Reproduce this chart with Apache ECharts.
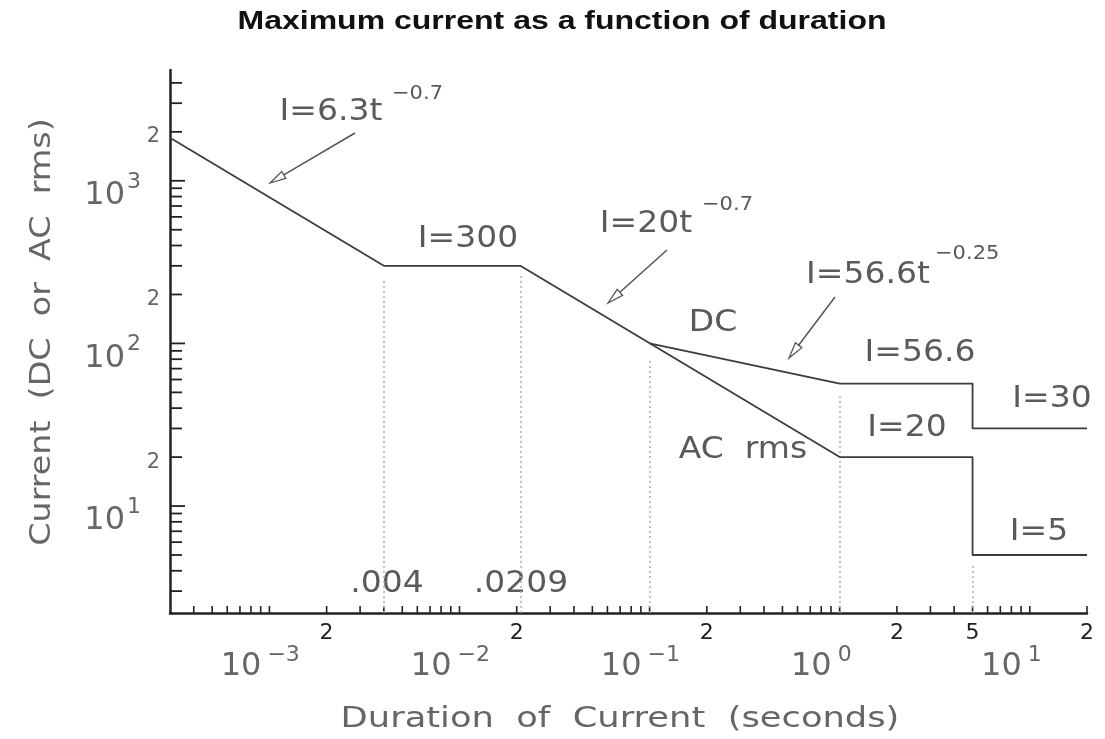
<!DOCTYPE html>
<html>
<head>
<meta charset="utf-8">
<script src="https://cdn.jsdelivr.net/npm/echarts@6/dist/echarts.min.js"></script>
<style>
html,body{margin:0;padding:0;background:#ffffff;}
#chart{width:1105px;height:739px;}
</style>
</head>
<body>
<div id="chart"></div>
<script>
// ---------------- data ----------------
// AC rms limit curve (duration in s, current in A)
const acDuration = [0.0003, 0.004, 0.0209, 1, 5, 5, 20];
const acCurrent  = [1840, 300, 300, 20, 20, 5, 5];
// DC branch (splits from the AC curve near 0.1 s)
const dcDuration = [0.1, 1, 5, 5, 20];
const dcCurrent  = [100, 56.6, 56.6, 30, 30];
// dotted reference lines: duration and the current where each stops
const markerDuration   = [0.004, 0.0209, 0.1, 1, 5];
const markerTopCurrent = [250, 260, 80, 48, 4.4];
// axis tick labels
const xTickLabelValues = [0.002, 0.02, 0.2, 2, 5, 20];
const xTickLabelTexts  = ['2', '2', '2', '2', '5', '2'];
const xDecadeValues    = [0.001, 0.01, 0.1, 1, 10];
const xDecadeExponents = ['\u22123', '\u22122', '\u22121', '0', '1'];
const yTickLabelValues = [20, 200, 2000];
const yTickLabelTexts  = ['2', '2', '2'];
const yDecadeValues    = [10, 100, 1000];
const yDecadeExponents = ['1', '2', '3'];
const tickMantissas    = [1, 2, 3, 4, 5, 6, 7, 8, 9];
const xTickDecades     = [0.0001, 0.001, 0.01, 0.1, 1, 10];
const yTickDecades     = [1, 10, 100, 1000];

// ---------------- axis ranges ----------------
const X_MIN = 0.0003, X_MAX = 20;
const Y_MIN = 2.2, Y_MAX = 4800;

function inRange(v, lo, hi) { return v > lo * 1.01 && v <= hi * 1.0001; }
const xTickValues = [];
xTickDecades.forEach(d => tickMantissas.forEach(m => { const v = +(m * d).toPrecision(6); if (inRange(v, X_MIN, X_MAX)) xTickValues.push(v); }));
const yTickValues = [];
yTickDecades.forEach(d => tickMantissas.forEach(m => { const v = +(m * d).toPrecision(6); if (inRange(v, Y_MIN, Y_MAX)) yTickValues.push(v); }));
function isDecade(v) { const l = Math.log10(v); return Math.abs(l - Math.round(l)) < 1e-6; }

const FONT = 'DejaVu Sans';
const GRAY = '#5a5a5a';

function txt(text, x, y, size, opts) {
  opts = opts || {};
  return {
    type: 'text', x: x, y: y, scaleX: opts.scaleX || 1, rotation: opts.rotation || 0, silent: true,
    style: {
      text: text, fontSize: size, fontFamily: opts.family || FONT, fontWeight: opts.weight || 'normal',
      fill: opts.fill || GRAY, align: opts.align || 'center', verticalAlign: 'middle',
      textAlign: opts.align || 'center', textVerticalAlign: 'middle'
    }
  };
}

// annotation layout (pixel positions of texts)
const annotations = [
  ['I=6.3t', 331, 112, 30], ['\u22120.7', 392, 94, 20, 'left'],
  ['I=300', 468, 239, 30],
  ['I=20t', 646, 224, 30], ['\u22120.7', 702, 205, 20, 'left'],
  ['I=56.6t', 868, 275, 30], ['\u22120.25', 935, 254, 20, 'left'],
  ['DC', 713, 323, 30],
  ['I=56.6', 920, 353, 30],
  ['I=30', 1052, 399, 30],
  ['I=20', 907, 428, 30],
  ['AC  rms', 743, 450, 30],
  ['I=5', 1039, 532, 30],
  ['.004', 387, 584, 30],
  ['.0209', 521, 584, 30]
];
const arrows = [
  [355, 133, 270, 183],
  [667, 250, 608, 303],
  [835, 297, 789, 358]
];

function arrowElems(sx, sy, tx, ty) {
  const dx = tx - sx, dy = ty - sy, L = Math.hypot(dx, dy);
  const ux = dx / L, uy = dy / L, nx = -uy, ny = ux;
  const hl = 16, hw = 4;
  const bx = tx - ux * hl, by = ty - uy * hl;
  return [
    { type: 'line', silent: true, shape: { x1: sx, y1: sy, x2: bx, y2: by }, style: { stroke: '#555', lineWidth: 1.5 } },
    { type: 'polygon', silent: true, shape: { points: [[tx, ty], [bx + nx * hw, by + ny * hw], [bx - nx * hw, by - ny * hw]] },
      style: { stroke: '#555', fill: '#fff', lineWidth: 1.3 } }
  ];
}

const graphics = [];
graphics.push(txt('Maximum current as a function of duration', 562, 22, 25,
  { family: 'Liberation Sans', weight: 'bold', fill: '#111', scaleX: 1.28 }));
graphics.push(txt('Duration  of  Current  (seconds)', 620, 720, 28, { scaleX: 1.26, fill: '#666' }));
graphics.push(txt('Current  (DC  or  AC  rms)', 43, 332, 28, { scaleX: 1.19, rotation: Math.PI / 2, fill: '#666' }));
annotations.forEach(a => graphics.push(txt(a[0], a[1], a[2], a[3], { align: a[4] || 'center', scaleX: a[3] > 25 ? 1.1 : 1.05 })));
arrows.forEach(a => arrowElems(a[0], a[1], a[2], a[3]).forEach(e => graphics.push(e)));

const pairs = (xs, ys) => xs.map((x, i) => [x, ys[i]]);

const chart = echarts.init(document.getElementById('chart'));
chart.setOption({
  animation: false,
  backgroundColor: '#ffffff',
  grid: { left: 170, top: 70, width: 917, height: 543, outerBoundsMode: 'none', containLabel: false },
  xAxis: {
    type: 'log', logBase: 10, min: X_MIN, max: X_MAX,
    axisLine: { show: true, lineStyle: { color: '#222', width: 2.5 } },
    axisTick: { show: false }, axisLabel: { show: false }, splitLine: { show: false }, minorTick: { show: false }
  },
  yAxis: {
    type: 'log', logBase: 10, min: Y_MIN, max: Y_MAX,
    axisLine: { show: true, lineStyle: { color: '#222', width: 2.5 } },
    axisTick: { show: false }, axisLabel: { show: false }, splitLine: { show: false }, minorTick: { show: false }
  },
  graphic: graphics,
  series: [
    {
      name: 'AC rms', type: 'line', data: pairs(acDuration, acCurrent), symbol: 'none',
      lineStyle: { color: '#3c3c3c', width: 1.8 }, z: 5,
      markLine: {
        silent: true, symbol: ['none', 'none'], label: { show: false },
        lineStyle: { type: [2, 3], color: '#b0b0b0', width: 1.5 },
        data: markerDuration.map((t, i) => [{ coord: [t, Y_MIN * 1.001] }, { coord: [t, markerTopCurrent[i]] }])
      }
    },
    {
      name: 'DC', type: 'line', data: pairs(dcDuration, dcCurrent), symbol: 'none',
      lineStyle: { color: '#3c3c3c', width: 1.8 }, z: 5
    },
    { // x-axis ticks (inside)
      type: 'custom', silent: true, data: xTickValues.map(v => [v, Y_MIN]),
      renderItem: (params, api) => {
        const cs = params.coordSys, yb = cs.y + cs.height;
        const x = api.coord([api.value(0), Y_MIN])[0];
        return { type: 'line', shape: { x1: x, y1: yb, x2: x, y2: yb - 7 }, style: { stroke: '#222', lineWidth: 1.6 } };
      }
    },
    { // y-axis ticks (inside)
      type: 'custom', silent: true, data: yTickValues.map(v => [X_MIN, v]),
      renderItem: (params, api) => {
        const cs = params.coordSys, v = api.value(1);
        const y = api.coord([X_MIN, v])[1];
        const len = isDecade(v) ? 15 : 12;
        return { type: 'line', shape: { x1: cs.x, y1: y, x2: cs.x + len, y2: y }, style: { stroke: '#222', lineWidth: 1.8 } };
      }
    },
    { // x "2"/"5" labels
      type: 'custom', silent: true, data: xTickLabelValues.map(v => [v, Y_MIN]),
      renderItem: (params, api) => {
        const cs = params.coordSys, yb = cs.y + cs.height;
        const x = api.coord([api.value(0), Y_MIN])[0];
        return txt(xTickLabelTexts[params.dataIndex], x, yb + 20, 22, { fill: '#222' });
      }
    },
    { // x decade labels 10^k
      type: 'custom', silent: true, data: xDecadeValues.map(v => [v, Y_MIN]),
      renderItem: (params, api) => {
        const cs = params.coordSys, yb = cs.y + cs.height;
        const x = api.coord([api.value(0), Y_MIN])[0];
        return { type: 'group', children: [
          txt('10', x - 8, yb + 54, 32, { align: 'right', fill: '#666' }),
          txt(xDecadeExponents[params.dataIndex], x - 2, yb + 42, 22, { align: 'left', fill: '#666' })
        ] };
      }
    },
    { // y "2" labels
      type: 'custom', silent: true, data: yTickLabelValues.map(v => [X_MIN, v]),
      renderItem: (params, api) => {
        const cs = params.coordSys;
        const y = api.coord([X_MIN, api.value(1)])[1];
        return txt(yTickLabelTexts[params.dataIndex], cs.x - 10, y + 5, 21, { align: 'right', fill: '#666' });
      }
    },
    { // y decade labels 10^k
      type: 'custom', silent: true, data: yDecadeValues.map(v => [X_MIN, v]),
      renderItem: (params, api) => {
        const cs = params.coordSys;
        const y = api.coord([X_MIN, api.value(1)])[1];
        return { type: 'group', children: [
          txt('10', cs.x - 45, y + 15, 32, { align: 'right', fill: '#666' }),
          txt(yDecadeExponents[params.dataIndex], cs.x - 43, y + 1, 22, { align: 'left', fill: '#666' })
        ] };
      }
    }
  ]
});
</script>
</body>
</html>
